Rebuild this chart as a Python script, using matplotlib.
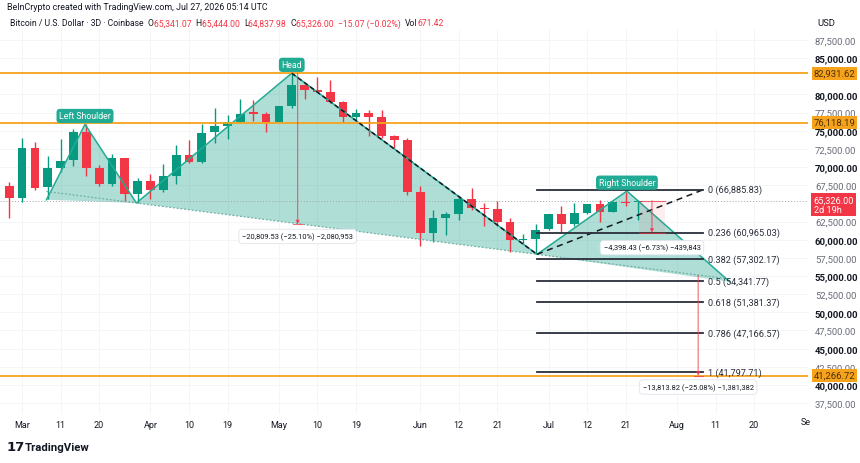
import matplotlib.pyplot as plt
from matplotlib.patches import Rectangle, Polygon
import numpy as np

plt.rcParams['font.family'] = ['Roboto', 'DejaVu Sans']

# 3D candles (index 0 = first candle on the left)
opens = [67437, 65693, 72580, 67254, 69917, 70927, 74783, 69917, 67713, 71202,
         66244, 68080, 66887, 68815, 71661, 70743, 74783, 75701, 76252, 77537,
         77262, 76252, 78456, 81348, 80659, 80384, 79007, 76849, 77446, 76895,
         74232, 73681, 66519, 60918, 63030, 63489, 65601, 64407, 64178, 62479,
         59999, 60091, 61469, 63489, 62203, 63673, 64958, 63856, 65233, 65150]
highs = [67988, 73957, 73497, 71569, 73865, 75200, 75885, 70284, 71845, 71294,
         68539, 69090, 70376, 73038, 73773, 75977, 78180, 77170, 79374, 79282,
         77629, 78456, 82771, 81500, 82358, 82036, 79100, 77996, 77905, 77905,
         74416, 74048, 67437, 64132, 63765, 66060, 67162, 65050, 65325, 63030,
         60826, 62203, 63581, 64591, 65050, 64958, 65509, 65233, 66611, 65444]
lows = [62938, 65234, 66887, 65601, 69274, 70100, 68723, 67346, 67346, 65325,
        65050, 65601, 66520, 67621, 70560, 70560, 73314, 73865, 76068, 76344,
        74875, 76160, 78180, 79374, 80292, 78823, 76068, 76527, 74232, 74048,
        72487, 66152, 59081, 59632, 60642, 62755, 64040, 61928, 61928, 58255,
        59357, 57980, 61377, 60918, 61928, 63489, 62387, 63764, 64683, 62700]
closes = [65693, 72580, 67162, 69917, 70835, 74783, 69825, 67713, 71202, 66244,
          68080, 66887, 68723, 71661, 70743, 74691, 75609, 76252, 77354, 77262,
          76252, 78456, 81302, 80567, 80384, 78915, 76849, 77446, 76895, 74232,
          73681, 66519, 60918, 62938, 63489, 65601, 64407, 64178, 62479, 59908,
          60137, 61377, 63489, 62203, 63673, 64958, 63856, 65141, 65050, 65326]

tick_pos = [1, 4, 7, 11, 14, 17, 21, 24, 27, 32, 35, 38, 42, 45, 48, 52, 55, 58]
tick_labels = ['Mar', '11', '20', 'Apr', '10', '19', 'May', '10', '19',
               'Jun', '12', '21', 'Jul', '12', '21', 'Aug', '11', '20']

price_ticks = [87500, 85000, 80000, 77500, 75000, 72500, 70000, 67500, 62500,
               60000, 57500, 55000, 52500, 50000, 47500, 45000, 42500, 40000, 37500]

levels = [82931.62, 76118.19, 41266.72]
last_price = 65326.00

# head & shoulders points (candle index, price)
hs_x = [2.9, 5.9, 9.9, 22.0, 41.1, 48.1, 56.1]
hs_y = [65500, 75885, 65050, 82931, 57980, 66700, 54200]
hs_names = ['Left Shoulder', 'Head', 'Right Shoulder']

fib_ratios = ['0', '0.236', '0.382', '0.5', '0.618', '0.786', '1']
fib_values = [66885.83, 60965.03, 57302.17, 54341.77, 51381.37, 47166.57, 41797.71]

# measurements: x, top, bottom, label
measures = [(22.46, 82931.62, 62122.09, '\u221220,809.53 (\u221225.10%) \u22122,080,953'),
            (50.05, 65365.46, 60967.03, '\u22124,398.43 (\u22126.73%) \u2212439,843'),
            (53.65, 55080.54, 41266.72, '\u221213,813.82 (\u221225.08%) \u22121,381,382')]

green = '#089981'
red = '#f23645'
teal = '#22ab94'
orange = '#f7a21b'

fig = plt.figure(figsize=(8.6, 4.64), dpi=100)
ax = fig.add_axes([0, 0.1056, 0.9395, 0.8297])
ax.set_xlim(-0.72, 62.2)
ax.set_ylim(35985, 89015)
for s in ax.spines.values():
    s.set_visible(False)

ax.set_xticks(tick_pos)
ax.set_xticklabels(tick_labels)
ax.set_yticks(price_ticks)
ax.set_yticklabels([f'{p:,.2f}' for p in price_ticks])
ax.yaxis.tick_right()
ax.tick_params(axis='y', length=0, pad=5, labelsize=6.8)
ax.tick_params(axis='x', length=0, pad=4, labelsize=6.5, labelcolor='#131722')
for lab, p in zip(ax.get_yticklabels(), price_ticks):
    if p % 5000 == 0:
        lab.set_fontweight('bold')
        lab.set_color('#131722')
    else:
        lab.set_color('#6a6d78')
ax.grid(True, color='#f3f4f6', lw=0.6)
ax.set_axisbelow(True)

# head and shoulders fill (three triangles)
for k in (0, 2, 4):
    tri = list(zip(hs_x[k:k + 3], hs_y[k:k + 3]))
    ax.add_patch(Polygon(tri, closed=True, fc=green, alpha=0.32, ec='none', zorder=1))
ax.plot(hs_x, hs_y, color=teal, lw=1.1, zorder=4)
slope = (hs_y[4] - hs_y[2]) / (hs_x[4] - hs_x[2])
nx = np.array([hs_x[0], hs_x[-1]])
ax.plot(nx, hs_y[2] + slope * (nx - hs_x[2]), color='#6fb0a4', lw=0.9,
        ls=(0, (1.5, 1.5)), zorder=4)
for name, k in zip(hs_names, (1, 3, 5)):
    ax.text(hs_x[k], hs_y[k] + 1150, name, ha='center', va='center', fontsize=6.3,
            color='white', zorder=8,
            bbox=dict(boxstyle='round,pad=0.3,rounding_size=0.4', fc=teal, ec='none'))

# candles
cols = [green if c >= o else red for o, c in zip(opens, closes)]
idx = np.arange(len(opens))
ax.vlines(idx, lows, highs, colors=cols, lw=1, zorder=3)
ax.bar(idx, [max(abs(c - o), 120) for o, c in zip(opens, closes)],
       bottom=[min(o, c) for o, c in zip(opens, closes)], width=0.68, color=cols, zorder=3)

# horizontal levels
for lv in levels:
    ax.axhline(lv, color=orange, lw=1.3, zorder=5)
    ax.annotate(f'{lv:,.2f}', xy=(1, lv), xycoords=('axes fraction', 'data'),
                xytext=(4, 0), textcoords='offset points', ha='left', va='center',
                fontsize=6.8, color='#4a3200', annotation_clip=False,
                bbox=dict(boxstyle='square,pad=0.2', fc=orange, ec='none'))

# current price
ax.axhline(last_price, color='#a0a3ab', lw=0.7, ls=(0, (1, 2)), zorder=2)
ax.annotate(f'{last_price:,.2f}\n2d 19h', xy=(1, last_price), xycoords=('axes fraction', 'data'),
            xytext=(4, 4), textcoords='offset points', ha='left', va='top',
            fontsize=6.6, color='white', linespacing=1.1, annotation_clip=False,
            bbox=dict(boxstyle='square,pad=0.25', fc=red, ec='none'))

# black dashed trend lines
ax.plot([hs_x[3], hs_x[4]], [hs_y[3], hs_y[4]], color='#131722', lw=1.1,
        ls=(0, (3, 2)), zorder=5)
ax.plot([hs_x[4], 54.05], [hs_y[4], fib_values[0]], color='#131722', lw=1.1,
        ls=(0, (4, 3)), zorder=5)

# fib retracement
for r, v in zip(fib_ratios, fib_values):
    ax.plot([41.07, 54.05], [v, v], color='#2a2e39', lw=1.3, zorder=5)
    ax.text(54.45, v, f'{r} ({v:,.2f})', va='center', ha='left', fontsize=6.6,
            color='#2a2e39', zorder=6)

# measurement tools
mlabel_y = [60440, 58900, 39700]
half = [0.35, 1.0, 0.35]
for (x, top, bot, txt), ly, hw in zip(measures, mlabel_y, half):
    if hw > 0.5:
        ax.add_patch(Rectangle((x - hw, bot), 2 * hw, top - bot, fc=red, alpha=0.08,
                               ec='none', zorder=5))
        ax.plot([x - hw, x + hw], [top, top], color=red, lw=0.8, alpha=0.7, zorder=6)
    ax.plot([x - hw, x + hw], [bot, bot], color=red, lw=0.8, alpha=0.7, zorder=6)
    ax.annotate('', xy=(x, bot), xytext=(x, top),
                arrowprops=dict(arrowstyle='-|>', color=red, lw=0.8, alpha=0.75,
                                mutation_scale=5, shrinkA=0, shrinkB=0), zorder=6)
    ax.text(x, ly, txt, ha='center', va='center', fontsize=5.4, color='#131722', zorder=9,
            bbox=dict(boxstyle='round,pad=0.45,rounding_size=0.5', fc='white',
                      ec='#e0e3eb', lw=0.6))

# header, axis extras
fig.text(7 / 860, 1 - 8 / 464, 'BeInCrypto created with TradingView.com, Jul 27, 2026 05:14 UTC',
         fontsize=6.4, color='#131722', va='center')
parts = [('Bitcoin / U.S. Dollar \u00b7 3D \u00b7 Coinbase  ', '#131722'), ('O', '#131722'),
         ('65,341.07  ', red), ('H', '#131722'), ('65,444.00  ', red), ('L', '#131722'),
         ('64,837.98  ', red), ('C', '#131722'), ('65,326.00  ', red),
         ('\u221215.07 (\u22120.02%)  ', red), ('Vol', '#131722'), ('671.42', red)]
fig.canvas.draw()
xpos = 10 / 860
rend = fig.canvas.get_renderer()
for s, c in parts:
    t = fig.text(xpos, 1 - 24 / 464, s, fontsize=6.2, color=c, va='center')
    bb = t.get_window_extent(renderer=rend)
    xpos += bb.width / 860
fig.text(826 / 860, 1 - 24 / 464, 'USD', fontsize=6.8, color='#131722', va='center', ha='center')
fig.text(806 / 860, 1 - 423 / 464, 'Se', fontsize=6.5, color='#131722', va='center', ha='center')
fig.text(7 / 860, 1 - 448 / 464, '17', fontsize=9.5, color='#131722', va='center',
         fontweight='heavy', family='DejaVu Sans')
fig.text(25 / 860, 1 - 448 / 464, 'TradingView', fontsize=8.2, color='#131722', va='center',
         fontweight='bold')

fig.savefig('out.png', dpi=100)
